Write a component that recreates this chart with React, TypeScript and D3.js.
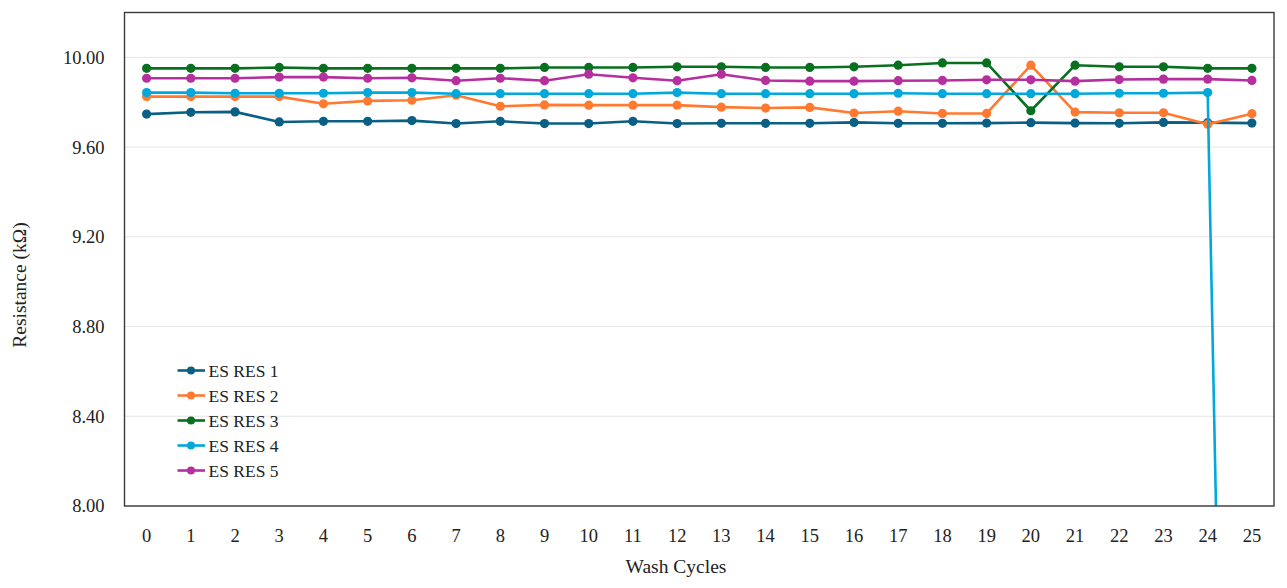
import React from "react";
import * as d3 from "d3";

const cycles = d3.range(0, 26);

const seriesNames = ["ES RES 1", "ES RES 2", "ES RES 3", "ES RES 4", "ES RES 5"];
const seriesColors = ["#0a5f85", "#ff7a30", "#08701f", "#00a8dc", "#b5309e"];

const res1 = [9.747, 9.755, 9.757, 9.712, 9.715, 9.715, 9.718, 9.705, 9.715, 9.705, 9.705, 9.715, 9.705,
  9.706, 9.706, 9.706, 9.71, 9.706, 9.706, 9.707, 9.709, 9.707, 9.706, 9.71, 9.709, 9.707];
const res2 = [9.825, 9.825, 9.825, 9.825, 9.793, 9.806, 9.809, 9.831, 9.782, 9.788, 9.787, 9.787, 9.787,
  9.778, 9.774, 9.777, 9.752, 9.76, 9.75, 9.75, 9.965, 9.756, 9.753, 9.753, 9.702, 9.749];
const res3 = [9.951, 9.951, 9.951, 9.955, 9.951, 9.951, 9.951, 9.951, 9.951, 9.955, 9.955, 9.955, 9.958,
  9.958, 9.955, 9.955, 9.958, 9.965, 9.975, 9.975, 9.762, 9.965, 9.958, 9.958, 9.951, 9.951];
const res4 = [9.843, 9.843, 9.84, 9.84, 9.84, 9.843, 9.843, 9.838, 9.838, 9.838, 9.838, 9.838, 9.843,
  9.838, 9.838, 9.838, 9.838, 9.84, 9.838, 9.838, 9.838, 9.838, 9.84, 9.84, 9.843, 0];
const res5 = [9.907, 9.907, 9.907, 9.912, 9.912, 9.907, 9.909, 9.896, 9.907, 9.896, 9.925, 9.909, 9.896,
  9.925, 9.897, 9.894, 9.894, 9.896, 9.897, 9.9, 9.9, 9.894, 9.901, 9.903, 9.903, 9.897];

const seriesValues = [res1, res2, res3, res4, res5];
const yTicks = [8.0, 8.4, 8.8, 9.2, 9.6, 10.0];

const W = 1287;
const H = 588;
const margin = { top: 12.5, right: 13, bottom: 82, left: 124.5 };
const font = "'Liberation Serif', 'Times New Roman', serif";

export default function App() {
  const innerWidth = W - margin.left - margin.right;
  const innerHeight = H - margin.top - margin.bottom;

  const xScale = d3.scaleBand<number>().domain(cycles).range([0, innerWidth]);
  const yScale = d3.scaleLinear().domain([8, 10.2]).range([innerHeight, 0]);
  const cx = (c: number) => (xScale(c) ?? 0) + xScale.bandwidth() / 2;

  const line = d3
    .line<number>()
    .x((_, i) => cx(cycles[i]))
    .y((v) => yScale(v));

  return (
    <svg
      width={W}
      height={H}
      style={{ position: "absolute", left: 0, top: 0, fontFamily: font }}
    >
      <defs>
        <clipPath id="plot-clip">
          <rect x={0} y={0} width={innerWidth} height={innerHeight} />
        </clipPath>
      </defs>
      <g transform={`translate(${margin.left},${margin.top})`}>
        {/* grid */}
        <g stroke="#e6e6e6" strokeWidth={1}>
          {yTicks.map((t) => (
            <line key={t} x1={0} x2={innerWidth} y1={yScale(t)} y2={yScale(t)} />
          ))}
        </g>

        {/* series */}
        <g clipPath="url(#plot-clip)">
          {seriesValues.map((vals, s) => (
            <g key={seriesNames[s]}>
              <path
                d={line(vals) ?? ""}
                fill="none"
                stroke={seriesColors[s]}
                strokeWidth={2.6}
                strokeLinejoin="round"
              />
              {vals.map((v, i) => (
                <circle
                  key={i}
                  cx={cx(cycles[i])}
                  cy={yScale(v)}
                  r={4.6}
                  fill={seriesColors[s]}
                />
              ))}
            </g>
          ))}
        </g>

        {/* frame */}
        <rect
          x={0}
          y={0}
          width={innerWidth}
          height={innerHeight}
          fill="none"
          stroke="#3a3a3a"
          strokeWidth={1.4}
        />

        {/* tick labels */}
        <g fill="#222" fontSize={18.5}>
          {yTicks.map((t) => (
            <text key={t} x={-20} y={yScale(t)} textAnchor="end" dy="0.35em">
              {t.toFixed(2)}
            </text>
          ))}
          {cycles.map((c) => (
            <text key={c} x={cx(c)} y={innerHeight + 36} textAnchor="middle">
              {c}
            </text>
          ))}
        </g>

        {/* axis titles */}
        <text
          x={676 - margin.left}
          y={innerHeight + 67}
          textAnchor="middle"
          fontSize={19.5}
          fill="#222"
        >
          Wash Cycles
        </text>
        <text
          transform={`translate(${26 - margin.left},${285 - margin.top}) rotate(-90)`}
          textAnchor="middle"
          fontSize={19.5}
          fill="#222"
        >
          Resistance (kΩ)
        </text>

        {/* legend */}
        <g transform={`translate(${177.5 - margin.left},${370.5 - margin.top})`}>
          {seriesNames.map((name, s) => (
            <g key={name} transform={`translate(0,${s * 25})`}>
              <line x1={0} x2={27.5} y1={0} y2={0} stroke={seriesColors[s]} strokeWidth={2.6} />
              <circle cx={13.5} cy={0} r={4} fill={seriesColors[s]} />
              <text x={31} y={0} dy="0.35em" fontSize={17.5} fill="#222">
                {name}
              </text>
            </g>
          ))}
        </g>
      </g>
    </svg>
  );
}
